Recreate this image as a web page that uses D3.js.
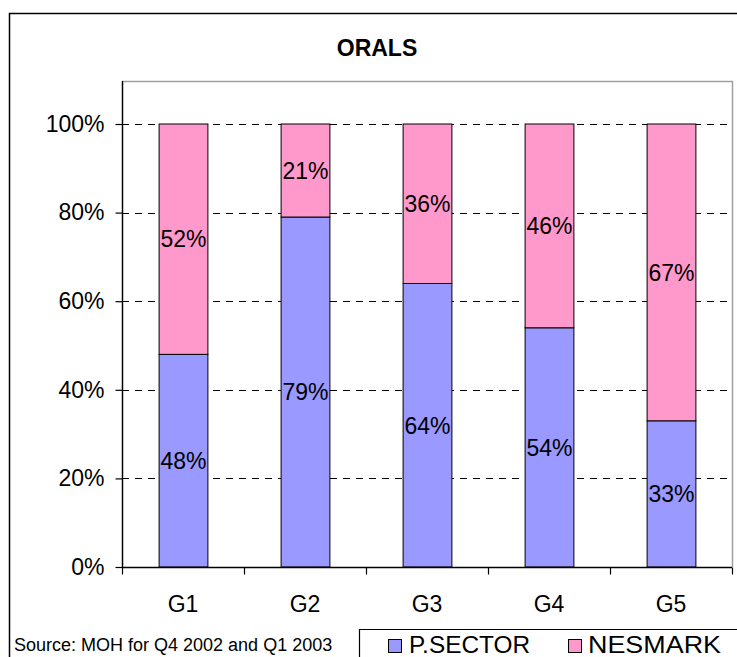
<!DOCTYPE html>
<html>
<head>
<meta charset="utf-8">
<script src="https://cdn.jsdelivr.net/npm/d3@7/dist/d3.min.js"></script>
<style>
  html, body { margin: 0; padding: 0; background: #fff; }
  svg { display: block; font-family: "Liberation Sans", Arial, sans-serif; }
</style>
</head>
<body>
<svg id="chart" width="737" height="657"></svg>
<script>
// Share of orals by channel, per group
const categories = ["G1", "G2", "G3", "G4", "G5"];
const seriesNames = ["P.SECTOR", "NESMARK"];
const pSector = [48, 79, 64, 54, 33];
const nesmark = [52, 21, 36, 46, 67];
const yTicks = [0, 20, 40, 60, 80, 100];
const colors = ["#9999FF", "#FF99CC"];

const svg = d3.select("#chart");

// outer frame
svg.append("path")
  .attr("d", "M9.5,760 V13.5 H760")
  .attr("fill", "none").attr("stroke", "#000").attr("stroke-width", 1.5);

const plot = { left: 122, right: 732, top: 81, bottom: 567 };

const x = d3.scaleBand().domain(categories).range([plot.left, plot.right]).paddingInner(0.6).paddingOuter(0.3);
const xBand = d3.scaleBand().domain(categories).range([plot.left, plot.right]);
const y = d3.scaleLinear().domain([0, 100]).range([plot.bottom, 124]);

// plot area border (top and right)
svg.append("path")
  .attr("d", `M${plot.left},${plot.top + 0.5} H${plot.right + 0.5} V${plot.bottom}`)
  .attr("fill", "none").attr("stroke", "#a0a0a0").attr("stroke-width", 1.5);

// dashed gridlines
svg.append("g").selectAll("line")
  .data(yTicks.filter(d => d > 0))
  .join("line")
  .attr("x1", plot.left).attr("x2", plot.right)
  .attr("y1", d => Math.round(y(d)) + 0.5).attr("y2", d => Math.round(y(d)) + 0.5)
  .attr("stroke", "#000").attr("stroke-dasharray", "7,6");

// stacked bars
const stackData = categories.map((c, i) => ({ cat: c, "P.SECTOR": pSector[i], "NESMARK": nesmark[i] }));
const stacked = d3.stack().keys(seriesNames)(stackData);

const layers = svg.append("g").selectAll("g")
  .data(stacked)
  .join("g")
  .attr("fill", (d, i) => colors[i]);

layers.selectAll("rect")
  .data(d => d)
  .join("rect")
  .attr("x", d => x(d.data.cat) + 0.5)
  .attr("width", x.bandwidth())
  .attr("y", d => y(d[1]))
  .attr("height", d => y(d[0]) - y(d[1]))
  .attr("stroke", "#000").attr("stroke-width", 1);

layers.selectAll("text")
  .data(d => d.map(v => ({ v, key: d.key })))
  .join("text")
  .attr("x", d => x(d.v.data.cat) + x.bandwidth() / 2 + 0.5)
  .attr("y", d => (y(d.v[0]) + y(d.v[1])) / 2)
  .attr("dy", "0.36em")
  .attr("text-anchor", "middle")
  .attr("fill", "#000")
  .attr("font-size", 23)
  .text(d => d.v.data[d.key] + "%");

// y axis
const yAxis = d3.axisLeft(y).tickValues(yTicks).tickSize(7).tickPadding(11).tickFormat(d => d + "%");
const gy = svg.append("g").attr("transform", `translate(${plot.left + 0.5},0)`).call(yAxis);
gy.select(".domain").remove();
gy.append("line").attr("x1", 0).attr("x2", 0).attr("y1", plot.top).attr("y2", plot.bottom).attr("stroke", "#000").attr("stroke-width", 1.5);
gy.selectAll(".tick line").attr("stroke", "#000").attr("stroke-width", 1.2);
gy.selectAll(".tick text").attr("font-size", 23).attr("fill", "#000").attr("font-family", "Liberation Sans, Arial, sans-serif");

// x axis
const gx = svg.append("g").attr("transform", `translate(0,${plot.bottom + 0.5})`);
gx.append("line").attr("x1", plot.left).attr("x2", plot.right).attr("stroke", "#000").attr("stroke-width", 1.5);
const boundaries = categories.map(c => xBand(c)).concat([plot.right]);
gx.selectAll("line.tk").data(boundaries).join("line").attr("class", "tk")
  .attr("x1", d => d + 0.5).attr("x2", d => d + 0.5).attr("y1", 0).attr("y2", 7)
  .attr("stroke", "#000").attr("stroke-width", 1.2);
gx.selectAll("text").data(categories).join("text")
  .attr("x", d => xBand(d) + xBand.bandwidth() / 2)
  .attr("y", 36)
  .attr("dy", "0.36em")
  .attr("text-anchor", "middle")
  .attr("font-size", 23)
  .text(d => d);

// title
svg.append("text").attr("x", 377).attr("y", 48).attr("dy", "0.36em")
  .attr("text-anchor", "middle").attr("font-weight", "bold").attr("font-size", 23)
  .text("ORALS");

// source note
svg.append("text").attr("x", 14).attr("y", 651)
  .attr("font-size", 18).text("Source: MOH for Q4 2002 and Q1 2003");

// legend
const lg = svg.append("g");
lg.append("path").attr("d", "M359.5,760 V629.5 H760").attr("fill", "none").attr("stroke", "#000").attr("stroke-width", 1.2);
const legendX = [388, 568];
const legendTextX = [409, 588];
const legendTextLen = [121, 133];
seriesNames.forEach((name, i) => {
  lg.append("rect").attr("x", legendX[i] + 0.5).attr("y", 639.5).attr("width", 13).attr("height", 13)
    .attr("fill", colors[i]).attr("stroke", "#000").attr("stroke-width", 1);
  lg.append("text").attr("x", legendTextX[i]).attr("y", 653)
    .attr("font-size", 23)
    .attr("textLength", legendTextLen[i]).attr("lengthAdjust", "spacingAndGlyphs")
    .text(name);
});
</script>
</body>
</html>
